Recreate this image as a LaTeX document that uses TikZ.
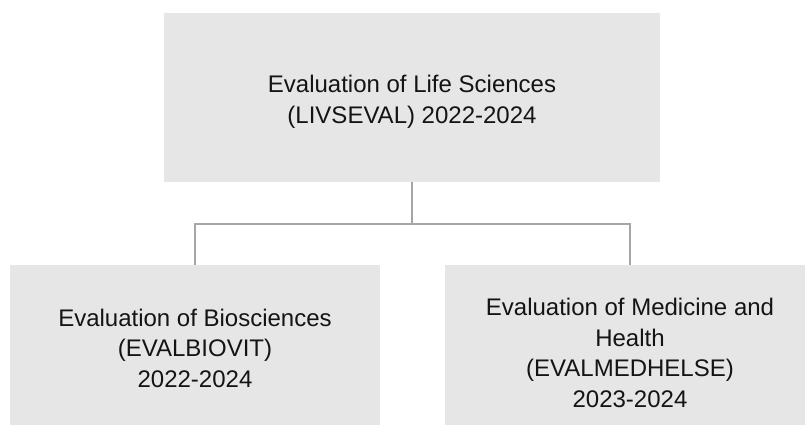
\documentclass[tikz,border=0pt]{standalone}
\usepackage{fontspec}
\setmainfont{Liberation Sans}
\definecolor{boxfill}{HTML}{E6E6E6}
\definecolor{linegray}{HTML}{A6A6A6}
\definecolor{txt}{HTML}{141414}
\begin{document}
\begin{tikzpicture}[x=1pt,y=-1pt,
  orgbox/.style={fill=boxfill,draw=none,inner sep=0pt,align=center,
    text=txt,font=\fontsize{24}{30.5}\selectfont},
  link/.style={draw=linegray,line width=1.5pt}]
\clip (0,0) rectangle (805,425);
\fill[white] (0,0) rectangle (805,425);
\node[orgbox,minimum width=496pt,minimum height=169pt] (top) at (412,97.5)
  {\rule{0pt}{26pt}Evaluation of Life Sciences\\(LIVSEVAL) 2022-2024};
\node[orgbox,minimum width=370pt,minimum height=166pt] (bio) at (195,348)
  {Evaluation of Biosciences\\(EVALBIOVIT)\\2022-2024};
\node[orgbox,minimum width=370pt,minimum height=176pt] (med) at (630,353)
  {Evaluation of Medicine and\\Health\\(EVALMEDHELSE)\\2023-2024};
\coordinate (j) at ([yshift=-42pt]top.south);
\draw[link] (top.south) -- (j);
\draw[link] (bio.north) |- (j) -| (med.north);
\end{tikzpicture}
\end{document}
